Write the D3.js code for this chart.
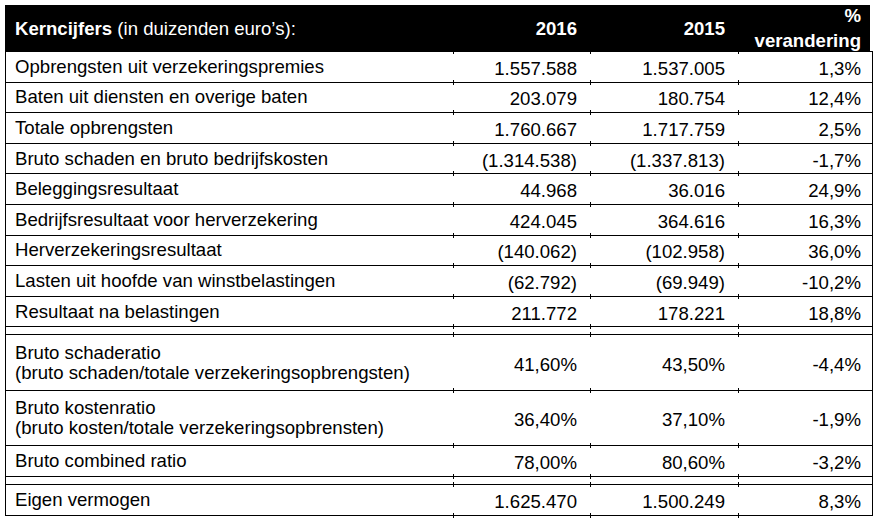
<!DOCTYPE html>
<html>
<head>
<meta charset="utf-8">
<script src="https://cdn.jsdelivr.net/npm/d3@7"></script>
<style>
  body { margin: 0; background: #fff; }
  text { font-family: "Liberation Sans", Arial, sans-serif; font-size: 18.6px; fill: #000; }
</style>
</head>
<body>
<div id="svg-container"></div>
<script>
// table contents
const labels = [
    ["Opbrengsten uit verzekeringspremies"],
    ["Baten uit diensten en overige baten"],
    ["Totale opbrengsten"],
    ["Bruto schaden en bruto bedrijfskosten"],
    ["Beleggingsresultaat"],
    ["Bedrijfsresultaat voor herverzekering"],
    ["Herverzekeringsresultaat"],
    ["Lasten uit hoofde van winstbelastingen"],
    ["Resultaat na belastingen"],
    ["Bruto schaderatio", "(bruto schaden/totale verzekeringsopbrengsten)"],
    ["Bruto kostenratio", "(bruto kosten/totale verzekeringsopbrensten)"],
    ["Bruto combined ratio"],
    ["Eigen vermogen"]
];
const values2016 = ["1.557.588", "203.079", "1.760.667", "(1.314.538)", "44.968", "424.045",
    "(140.062)", "(62.792)", "211.772", "41,60%", "36,40%", "78,00%", "1.625.470"];
const values2015 = ["1.537.005", "180.754", "1.717.759", "(1.337.813)", "36.016", "364.616",
    "(102.958)", "(69.949)", "178.221", "43,50%", "37,10%", "80,60%", "1.500.249"];
const changes = ["1,3%", "12,4%", "2,5%", "-1,7%", "24,9%", "16,3%",
    "36,0%", "-10,2%", "18,8%", "-4,4%", "-1,9%", "-3,2%", "8,3%"];
// a double rule goes above these rows
const groupStarts = [9, 12];

const width = 880, height = 525;
const left = 5, right = 872;
const headerTop = 5, headerBottom = 51;
const rowH = 30.6, twoRowH = 55.5, gap = 8;
const colRight = [577, 725, 861];
const colTicks = [453, 590, 738];

const svg = d3.select("#svg-container").append("svg")
    .attr("width", width)
    .attr("height", height);

// work out where each row sits
let y = headerBottom;
const rows = labels.map((lab, i) => {
    if (groupStarts.includes(i)) y += gap;
    const h = lab.length > 1 ? twoRowH : rowH;
    const r = { i: i, top: y, bottom: y + h, lines: lab };
    y += h;
    return r;
});
const tableBottom = y;

// header
svg.append("rect")
    .attr("x", left)
    .attr("y", headerTop)
    .attr("width", 865)
    .attr("height", headerBottom - headerTop)
    .attr("fill", "#000");

const head = svg.append("text")
    .attr("x", 15)
    .attr("y", 28)
    .attr("dy", "0.35em")
    .style("fill", "#fff");
head.append("tspan").style("font-weight", "bold").style("fill", "#fff").text("Kerncijfers");
head.append("tspan").style("fill", "#fff").text(" (in duizenden euro\u2019s):");

[["2016", 28], ["2015", 28], ["%", 15], ["verandering", 40]].forEach((d, k) => {
    svg.append("text")
        .attr("x", colRight[Math.min(k, 2)])
        .attr("y", d[1])
        .attr("dy", "0.35em")
        .attr("text-anchor", "end")
        .style("font-weight", "bold")
        .style("fill", "#fff")
        .text(d[0]);
});

// horizontal rules
const rules = [headerBottom];
rows.forEach(r => {
    if (!rules.includes(r.top)) rules.push(r.top);
    rules.push(r.bottom);
});
svg.selectAll("line.rule")
    .data(rules)
    .join("line")
    .attr("class", "rule")
    .attr("x1", left)
    .attr("x2", right)
    .attr("y1", d => Math.round(d) + 0.5)
    .attr("y2", d => Math.round(d) + 0.5)
    .attr("stroke", "#000")
    .attr("stroke-width", 1);

// small column marks at each rule
rules.forEach(r => {
    colTicks.forEach(cx => {
        svg.append("line")
            .attr("x1", cx + 0.5)
            .attr("x2", cx + 0.5)
            .attr("y1", Math.round(r) - 2)
            .attr("y2", Math.round(r) + 3)
            .attr("stroke", "#000")
            .attr("stroke-width", 1);
    });
});

// outer borders
[left, right].forEach(x => {
    svg.append("line")
        .attr("x1", x + 0.5)
        .attr("x2", x + 0.5)
        .attr("y1", headerBottom)
        .attr("y2", Math.round(tableBottom) + 1)
        .attr("stroke", "#000");
});

// row text
rows.forEach(r => {
    const mid = (r.top + r.bottom) / 2;
    r.lines.forEach((t, k) => {
        const ly = r.lines.length > 1 ? mid - 10 + k * 20 : mid;
        svg.append("text")
            .attr("x", 15)
            .attr("y", ly)
            .attr("dy", "0.35em")
            .text(t);
    });
    [values2016[r.i], values2015[r.i], changes[r.i]].forEach((v, k) => {
        svg.append("text")
            .attr("x", colRight[k])
            .attr("y", mid + 2)
            .attr("dy", "0.35em")
            .attr("text-anchor", "end")
            .text(v);
    });
});
</script>
</body>
</html>
